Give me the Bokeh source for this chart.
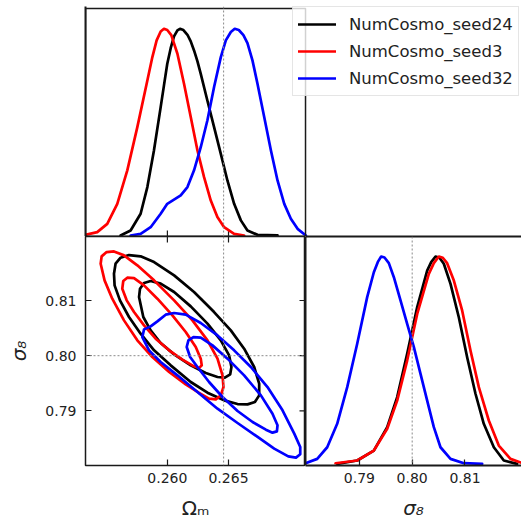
from bokeh.plotting import figure
from bokeh.layouts import column, row
from bokeh.models import (FixedTicker, LinearAxis, Span, Legend, LegendItem,
                          PrintfTickFormatter, Range1d, BoxAnnotation)
from bokeh.embed import file_html
from bokeh.resources import INLINE

# ---------------- data ----------------
series = ["NumCosmo_seed24", "NumCosmo_seed3", "NumCosmo_seed32"]
colors = ["black", "red", "blue"]

true_om = 0.2646
true_s8 = 0.80

om_ticks = [0.260, 0.265]
s8_ticks = [0.79, 0.80, 0.81]

# 1D marginal of Omega_m (peak-normalised)
om1d_seed24_x = [0.25617, 0.25699, 0.25781, 0.25836, 0.25890, 0.25945, 0.25972, 0.25999, 0.26027,
                 0.26054, 0.26082, 0.26103, 0.26131, 0.26164, 0.26191, 0.26218, 0.26246, 0.26273,
                 0.26327, 0.26382, 0.26437, 0.26491, 0.26546, 0.26601, 0.26655, 0.26737, 0.26901]
om1d_seed24_y = [0.000, 0.024, 0.105, 0.234, 0.411, 0.621, 0.726, 0.831, 0.906,
                 0.963, 0.992, 1.000, 0.994, 0.971, 0.939, 0.895, 0.842, 0.782,
                 0.653, 0.524, 0.395, 0.266, 0.153, 0.073, 0.024, 0.003, 0.000]
om1d_seed3_x = [0.25330, 0.25426, 0.25508, 0.25590, 0.25672, 0.25754, 0.25836, 0.25877, 0.25912,
                0.25945, 0.25972, 0.25999, 0.26032, 0.26082, 0.26136, 0.26191, 0.26246, 0.26300,
                0.26355, 0.26409, 0.26464, 0.26546, 0.26628]
om1d_seed3_y = [0.003, 0.016, 0.056, 0.153, 0.315, 0.524, 0.750, 0.863, 0.944,
                0.987, 1.000, 0.994, 0.969, 0.879, 0.734, 0.573, 0.411, 0.282,
                0.169, 0.089, 0.040, 0.008, 0.000]
om1d_seed32_x = [0.25699, 0.25781, 0.25863, 0.25945, 0.25999, 0.26054, 0.26109, 0.26164, 0.26218,
                 0.26273, 0.26327, 0.26382, 0.26437, 0.26478, 0.26519, 0.26551, 0.26584, 0.26622,
                 0.26655, 0.26696, 0.26737, 0.26792, 0.26847, 0.26901, 0.26956, 0.27010, 0.27065,
                 0.27133]
om1d_seed32_y = [0.000, 0.008, 0.040, 0.105, 0.153, 0.173, 0.194, 0.234, 0.315,
                 0.427, 0.556, 0.718, 0.863, 0.944, 0.984, 1.000, 0.994, 0.969,
                 0.931, 0.847, 0.734, 0.573, 0.411, 0.266, 0.153, 0.081, 0.032,
                 0.000]

# 1D marginal of sigma_8 (peak-normalised)
s81d_seed24_x = [0.78580, 0.78959, 0.79274, 0.79527, 0.79716, 0.79905, 0.80095, 0.80284, 0.80360,
                 0.80442, 0.80517, 0.80599, 0.80726, 0.80883, 0.81041, 0.81199, 0.81356, 0.81546,
                 0.81735, 0.81987]
s81d_seed24_y = [0.000, 0.016, 0.064, 0.177, 0.322, 0.531, 0.756, 0.932, 0.973,
                 1.000, 0.994, 0.965, 0.868, 0.707, 0.514, 0.338, 0.193, 0.080,
                 0.016, 0.000]
s81d_seed3_x = [0.78549, 0.78959, 0.79274, 0.79527, 0.79716, 0.79905, 0.80095, 0.80315, 0.80410,
                0.80505, 0.80580, 0.80662, 0.80789, 0.80946, 0.81104, 0.81262, 0.81451, 0.81640,
                0.81861, 0.82069]
s81d_seed3_y = [0.003, 0.016, 0.064, 0.169, 0.305, 0.498, 0.723, 0.916, 0.968,
                1.000, 0.994, 0.968, 0.884, 0.740, 0.547, 0.370, 0.209, 0.088,
                0.024, 0.005]
s81d_seed32_x = [0.77981, 0.78202, 0.78391, 0.78580, 0.78770, 0.78959, 0.79148, 0.79274, 0.79350,
                 0.79413, 0.79476, 0.79558, 0.79653, 0.79779, 0.79905, 0.80032, 0.80158, 0.80284,
                 0.80410, 0.80536, 0.80726, 0.80978, 0.81325]
s81d_seed32_y = [0.003, 0.024, 0.080, 0.193, 0.370, 0.579, 0.804, 0.924, 0.974,
                 1.000, 0.995, 0.968, 0.900, 0.788, 0.675, 0.563, 0.434, 0.305,
                 0.177, 0.080, 0.024, 0.003, 0.000]

# 2D contours (inner = 68%, outer = 95%)
seed24_c95_om = [0.25563, 0.25576, 0.25617, 0.25686, 0.25781, 0.25891, 0.26055, 0.26218, 0.26382,
                 0.26519, 0.26628, 0.26710, 0.26751, 0.26751, 0.26716, 0.26656, 0.26574, 0.26464,
                 0.26328, 0.26191, 0.26027, 0.25891, 0.25781, 0.25686, 0.25612, 0.25568]
seed24_c95_s8 = [0.81486, 0.81667, 0.81776, 0.81824, 0.81800, 0.81697, 0.81455, 0.81154, 0.80791,
                 0.80459, 0.80127, 0.79795, 0.79493, 0.79281, 0.79161, 0.79118, 0.79124, 0.79191,
                 0.79330, 0.79523, 0.79825, 0.80097, 0.80399, 0.80701, 0.81003, 0.81274]
seed24_c68_om = [0.25768, 0.25776, 0.25809, 0.25863, 0.25945, 0.26055, 0.26191, 0.26328, 0.26437,
                 0.26505, 0.26524, 0.26514, 0.26470, 0.26410, 0.26314, 0.26191, 0.26055, 0.25945,
                 0.25863, 0.25803]
seed24_c68_s8 = [0.81063, 0.81214, 0.81317, 0.81353, 0.81305, 0.81154, 0.80894, 0.80580, 0.80278,
                 0.80006, 0.79795, 0.79662, 0.79602, 0.79614, 0.79686, 0.79825, 0.80024, 0.80230,
                 0.80459, 0.80701]
seed3_c95_om = [0.25454, 0.25462, 0.25503, 0.25563, 0.25645, 0.25754, 0.25891, 0.26055, 0.26205,
                0.26328, 0.26410, 0.26451, 0.26459, 0.26437, 0.26396, 0.26341, 0.26259, 0.26150,
                0.26014, 0.25877, 0.25754, 0.25645, 0.25549, 0.25486]
seed3_c95_s8 = [0.81667, 0.81800, 0.81878, 0.81890, 0.81818, 0.81637, 0.81365, 0.81003, 0.80640,
                0.80278, 0.79946, 0.79644, 0.79432, 0.79281, 0.79209, 0.79221, 0.79324, 0.79481,
                0.79704, 0.79976, 0.80278, 0.80640, 0.81033, 0.81365]
seed3_c68_om = [0.25631, 0.25639, 0.25672, 0.25727, 0.25809, 0.25918, 0.26041, 0.26150, 0.26232,
                0.26273, 0.26281, 0.26259, 0.26218, 0.26123, 0.26014, 0.25904, 0.25809, 0.25727,
                0.25667]
seed3_c68_s8 = [0.81214, 0.81353, 0.81413, 0.81407, 0.81274, 0.81033, 0.80731, 0.80429, 0.80157,
                0.79946, 0.79825, 0.79777, 0.79807, 0.79928, 0.80097, 0.80308, 0.80550, 0.80791,
                0.81003]
seed32_c95_om = [0.25795, 0.25809, 0.25863, 0.25918, 0.25986, 0.26055, 0.26150, 0.26273, 0.26410,
                 0.26546, 0.26683, 0.26819, 0.26942, 0.27038, 0.27087, 0.27087, 0.27052, 0.26989,
                 0.26874, 0.26738, 0.26574, 0.26410, 0.26246, 0.26082, 0.25945, 0.25850]
seed32_c95_s8 = [0.80338, 0.80477, 0.80531, 0.80622, 0.80743, 0.80773, 0.80743, 0.80592, 0.80368,
                 0.80097, 0.79795, 0.79432, 0.79010, 0.78587, 0.78345, 0.78213, 0.78152, 0.78176,
                 0.78315, 0.78527, 0.78780, 0.79040, 0.79342, 0.79644, 0.79885, 0.80097]
seed32_c68_om = [0.26158, 0.26172, 0.26213, 0.26273, 0.26369, 0.26492, 0.26628, 0.26765, 0.26860,
                 0.26901, 0.26896, 0.26860, 0.26806, 0.26697, 0.26574, 0.26451, 0.26341, 0.26246,
                 0.26186]
seed32_c68_s8 = [0.80157, 0.80278, 0.80338, 0.80326, 0.80187, 0.79946, 0.79644, 0.79281, 0.78949,
                 0.78738, 0.78629, 0.78605, 0.78659, 0.78798, 0.78998, 0.79251, 0.79523, 0.79795,
                 0.79976]

# ---------------- axis limits ----------------
om_range = (0.2533, 0.2713)          # Omega_m limits of the corner columns
om_range_top_ext = 0.28897           # top row frame continues under the legend
s8_range_2d = (0.7801, 0.8216)
s8_range_1d = (0.7798, 0.8207)
pdf_range_om = (-0.005, 1.1077)
pdf_box_top = 1.098
pdf_range_s8 = (-0.008, 1.0965)

# ---------------- style ----------------
FONT = "DejaVu Sans"
SPINE = "#1a1a1a"
TXT = "#222222"
LW = 2.7


def base_fig(width, height, xr, yr, mbl, mbr, mbt, mbb, outline=True):
    p = figure(width=width, height=height, x_range=Range1d(*xr), y_range=Range1d(*yr),
               output_backend="svg", toolbar_location=None,
               x_axis_location=None, y_axis_location=None,
               min_border_left=mbl, min_border_right=mbr,
               min_border_top=mbt, min_border_bottom=mbb)
    p.grid.visible = False
    p.outline_line_color = SPINE if outline else None
    p.outline_line_width = 1.5
    p.background_fill_color = "white"
    p.border_fill_color = "white"
    return p


def add_axis(p, side, ticks, fmt=None, label=None, label_italic=False, line=False,
             standoff=7, label_standoff=10):
    ax = LinearAxis(ticker=FixedTicker(ticks=ticks))
    ax.major_tick_in = 6
    ax.major_tick_out = 0
    ax.minor_tick_in = 0
    ax.minor_tick_out = 0
    ax.major_tick_line_color = SPINE
    ax.major_tick_line_width = 1.2
    ax.axis_line_color = SPINE if line else None
    ax.axis_line_width = 2
    ax.major_label_standoff = standoff if fmt else 0
    if fmt is not None:
        ax.formatter = PrintfTickFormatter(format=fmt)
        ax.major_label_text_font = FONT
        ax.major_label_text_font_size = "14px"
        ax.major_label_text_color = TXT
    if label:
        ax.axis_label = label
        ax.axis_label_text_font = FONT
        ax.axis_label_text_font_size = "20px"
        ax.axis_label_text_color = TXT
        ax.axis_label_text_font_style = "italic" if label_italic else "normal"
        ax.axis_label_standoff = label_standoff
    p.add_layout(ax, side)
    return ax


def inner_ticks(p, xs, ys, angle):
    p.ray(x=xs, y=ys, length=6, length_units="screen", angle=angle, angle_units="deg",
          line_color=SPINE, line_width=1.2)


def span(p, loc, dim):
    p.add_layout(Span(location=loc, dimension=dim, line_color="#8a8a8a",
                      line_width=1, line_dash="2 2"))


# ---------------- top-left: Omega_m marginal ----------------
tl = base_fig(521, 236, (om_range[0], om_range_top_ext), pdf_range_om, 85, 0, 6, 0, outline=False)
add_axis(tl, "left", [], line=True)
add_axis(tl, "below", [], line=True)
tl.add_layout(BoxAnnotation(left=om_range[0], right=om_range[1], bottom=pdf_range_om[0],
                            top=pdf_box_top, fill_color=None, fill_alpha=0,
                            line_color=SPINE, line_alpha=1.0, line_width=1.5))
inner_ticks(tl, om_ticks, [pdf_range_om[0]] * len(om_ticks), 90)
span(tl, true_om, "height")
om1d = [(om1d_seed24_x, om1d_seed24_y), (om1d_seed3_x, om1d_seed3_y), (om1d_seed32_x, om1d_seed32_y)]
rends = []
for (xs, ys), c in zip(om1d, colors):
    rends.append(tl.line(xs, ys, line_color=c, line_width=LW, line_join="round", line_cap="round"))

legend = Legend(items=[LegendItem(label=s, renderers=[r]) for s, r in zip(series, rends)],
                location=(207, 140))
legend.label_text_font = FONT
legend.label_text_font_size = "16.5px"
legend.label_text_color = TXT
legend.glyph_width = 38
legend.glyph_height = 24
legend.label_height = 24
legend.spacing = 3
legend.padding = 5
legend.margin = 0
legend.label_standoff = 13
legend.border_line_color = "#cccccc"
legend.border_line_width = 1
legend.background_fill_color = "white"
legend.background_fill_alpha = 0.8
tl.add_layout(legend)

# ---------------- bottom-left: 2D contours ----------------
bl = base_fig(305, 286, om_range, s8_range_2d, 85, 0, 0, 57)
add_axis(bl, "below", om_ticks, fmt="%.3f", label="Ωₘ", standoff=7, label_standoff=10)
add_axis(bl, "left", s8_ticks, fmt="%.2f", label="σ₈", label_italic=True, standoff=9, label_standoff=11)
inner_ticks(bl, [om_range[1]] * len(s8_ticks), s8_ticks, 180)
inner_ticks(bl, om_ticks, [s8_range_2d[1]] * len(om_ticks), -90)
span(bl, true_om, "height")
span(bl, true_s8, "width")
contours = [
    [(seed24_c95_om, seed24_c95_s8), (seed24_c68_om, seed24_c68_s8)],
    [(seed3_c95_om, seed3_c95_s8), (seed3_c68_om, seed3_c68_s8)],
    [(seed32_c95_om, seed32_c95_s8), (seed32_c68_om, seed32_c68_s8)],
]
for levels, c in zip(contours, colors):
    for xs, ys in levels:
        bl.patch(xs, ys, fill_color=None, line_color=c, line_width=LW, line_join="round")

# ---------------- bottom-right: sigma_8 marginal ----------------
br = base_fig(216, 286, s8_range_1d, pdf_range_s8, 0, 0, 0, 57, outline=False)
add_axis(br, "below", s8_ticks, fmt="%.2f", label="σ₈", label_italic=True, line=True,
         standoff=7, label_standoff=10)
add_axis(br, "above", [], line=True)
add_axis(br, "left", [], line=True)
span(br, true_s8, "height")
s81d = [(s81d_seed24_x, s81d_seed24_y), (s81d_seed3_x, s81d_seed3_y), (s81d_seed32_x, s81d_seed32_y)]
for (xs, ys), c in zip(s81d, colors):
    br.line(xs, ys, line_color=c, line_width=LW, line_join="round", line_cap="round")

layout = column(tl, row(bl, br))
open("out.html", "w").write(file_html(layout, INLINE))
